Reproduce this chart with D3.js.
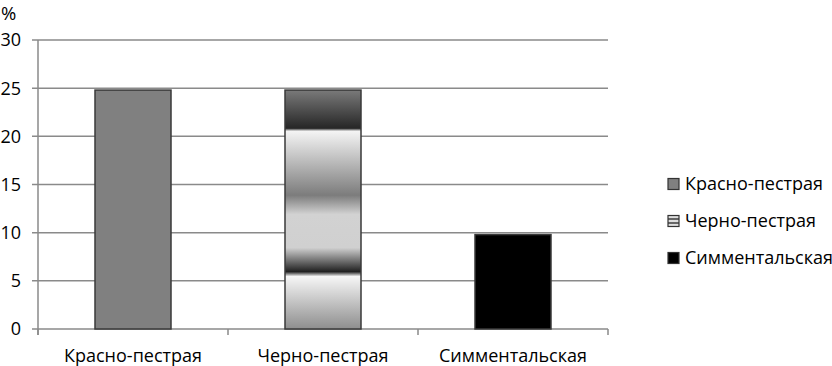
<!DOCTYPE html>
<html>
<head>
<meta charset="utf-8">
<script src="https://cdn.jsdelivr.net/npm/d3@7"></script>
<style>
  body { margin: 0; background: #fff; }
  text { font-family: "Open Sans", sans-serif; fill: #000; }
</style>
</head>
<body>
<script>
// chart data
const categories = ["Красно-пестрая", "Черно-пестрая", "Симментальская"];
const values = [24.8, 24.8, 9.8];
const yTicks = [0, 5, 10, 15, 20, 25, 30];
const unitLabel = "%";

const width = 832, height = 366;
const margin = { left: 38, right: 224, top: 40, bottom: 37 };

const svg = d3.select("body").append("svg")
    .attr("width", width)
    .attr("height", height);

const defs = svg.append("defs");

// banded gray gradient for the middle bar
const grad = defs.append("linearGradient")
    .attr("id", "bandGrad")
    .attr("x1", 0).attr("y1", 0).attr("x2", 0).attr("y2", 1);
[
    [0, "#7a7a7a"], [0.16, "#262626"], [0.172, "#f4f4f4"],
    [0.44, "#7c7c7c"], [0.52, "#d2d2d2"], [0.66, "#d0d0d0"],
    [0.76, "#202020"], [0.78, "#f6f6f6"], [1, "#8e8e8e"]
].forEach(s => grad.append("stop").attr("offset", s[0]).attr("stop-color", s[1]));

// small striped version for the legend
const legGrad = defs.append("linearGradient")
    .attr("id", "legGrad")
    .attr("x1", 0).attr("y1", 0).attr("x2", 0).attr("y2", 1);
[
    [0, "#ddd"], [0.22, "#ddd"], [0.23, "#666"], [0.38, "#666"], [0.39, "#ddd"],
    [0.6, "#ddd"], [0.61, "#666"], [0.76, "#666"], [0.77, "#ddd"], [1, "#ddd"]
].forEach(s => legGrad.append("stop").attr("offset", s[0]).attr("stop-color", s[1]));

const fills = ["#808080", "url(#bandGrad)", "#000"];
const legendFills = ["#808080", "url(#legGrad)", "#000"];

const x = d3.scaleBand()
    .domain(categories)
    .range([margin.left, width - margin.right])
    .paddingInner(0.6)
    .paddingOuter(0.3);

const y = d3.scaleLinear()
    .domain([0, 30])
    .range([height - margin.bottom, margin.top]);

// gridlines + tick marks
svg.append("g")
    .selectAll("line")
    .data(yTicks)
    .enter()
    .append("line")
    .attr("x1", margin.left - 6)
    .attr("x2", width - margin.right)
    .attr("y1", d => y(d))
    .attr("y2", d => y(d))
    .attr("stroke", "#8a8a8a")
    .attr("stroke-width", 1.5);

// y tick labels
svg.append("g")
    .selectAll("text")
    .data(yTicks)
    .enter()
    .append("text")
    .attr("x", 21)
    .attr("y", d => y(d))
    .attr("dy", "0.36em")
    .attr("text-anchor", "end")
    .style("font-size", "18px")
    .text(d => d);

svg.append("text")
    .attr("x", 1)
    .attr("y", 20)
    .style("font-size", "18.5px")
    .text(unitLabel);

// left axis
svg.append("line")
    .attr("x1", margin.left).attr("x2", margin.left)
    .attr("y1", margin.top).attr("y2", y(0) + 6)
    .attr("stroke", "#8a8a8a")
    .attr("stroke-width", 1.5);

// category tick marks on the bottom axis
const bounds = d3.range(categories.length + 1).map(i => margin.left + i * (width - margin.right - margin.left) / categories.length);
svg.append("g")
    .selectAll("line")
    .data(bounds)
    .enter()
    .append("line")
    .attr("x1", d => d).attr("x2", d => d)
    .attr("y1", y(0)).attr("y2", y(0) + 6)
    .attr("stroke", "#8a8a8a")
    .attr("stroke-width", 1.5);

// bars
svg.append("g")
    .selectAll("rect")
    .data(categories)
    .enter()
    .append("rect")
    .attr("x", d => x(d))
    .attr("y", (d, i) => y(values[i]))
    .attr("width", x.bandwidth())
    .attr("height", (d, i) => y(0) - y(values[i]))
    .attr("fill", (d, i) => fills[i])
    .attr("stroke", "#3a3a3a")
    .attr("stroke-width", 1.5);

// category labels
svg.append("g")
    .selectAll("text")
    .data(categories)
    .enter()
    .append("text")
    .attr("x", d => x(d) + x.bandwidth() / 2)
    .attr("y", 362)
    .attr("text-anchor", "middle")
    .style("font-size", "18px")
    .text(d => d);

// legend
const legendY = [184, 221, 258];
const legend = svg.append("g");
categories.forEach((c, i) => {
    legend.append("rect")
        .attr("x", 668)
        .attr("y", legendY[i] - 5.5)
        .attr("width", 11)
        .attr("height", 11)
        .attr("fill", legendFills[i])
        .attr("stroke", "#333")
        .attr("stroke-width", 1.2);
    legend.append("text")
        .attr("x", 685)
        .attr("y", legendY[i])
        .attr("dy", "0.36em")
        .style("font-size", "18px")
        .text(c);
});
</script>
</body>
</html>
